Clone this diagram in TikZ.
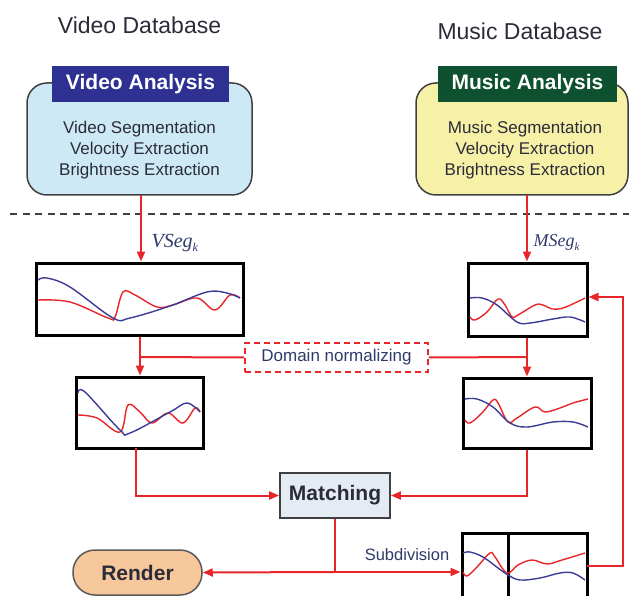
\documentclass[tikz,border=0pt]{standalone}
\usepackage{fontspec}
\setmainfont{Liberation Sans}
\newfontfamily\timesfam{Liberation Serif}
\usetikzlibrary{arrows.meta}
\definecolor{lnred}{HTML}{E8262A}
\definecolor{crvblue}{HTML}{3C3C96}
\definecolor{navyhead}{HTML}{2E3192}
\definecolor{greenhead}{HTML}{0E5130}
\definecolor{vfill}{HTML}{CDE9F5}
\definecolor{mfill}{HTML}{F7F1A8}
\definecolor{matchfill}{HTML}{E4EBF2}
\definecolor{renderfill}{HTML}{F6C89B}
\definecolor{txtdark}{HTML}{2B2B3A}
\definecolor{lbldark}{HTML}{2E3A6A}

\begin{document}
\begin{tikzpicture}[x=1pt,y=-1pt,
  flow/.style={draw=lnred, line width=2pt, -{Triangle[length=10pt,width=8pt]}},
  wire/.style={draw=lnred, line width=2pt},
  panel/.style={draw=black, line width=3pt, inner sep=0pt},
  anabox/.style={draw=black!75, line width=1.5pt, rounded corners=20pt, inner sep=0pt},
  headbox/.style={inner sep=0pt, text=white, font=\fontsize{21}{25}\selectfont\bfseries},
  bodytxt/.style={align=center, text=txtdark, font=\fontsize{17}{21}\selectfont},
  dbtitle/.style={text=txtdark, font=\fontsize{23}{27}\selectfont},
  segl/.style={text=lbldark, anchor=west, font=\fontsize{20}{24}\timesfam\itshape},
  redc/.style={lnred, line width=1.4pt},
  bluec/.style={crvblue, line width=1.4pt},
]
\useasboundingbox (0,0) rectangle (629,596);

% database titles
\node[dbtitle] (vdb) at (139.5,25) {Video Database};
\node[dbtitle] (mdb) at (520,31) {Music Database};

% analysis blocks
\node[anabox, fill=vfill, minimum width=225pt, minimum height=112pt] (vana) at (139.5,139) {};
\node[headbox, fill=navyhead, minimum width=177pt, minimum height=36pt] (vhead) at (140.5,84) {Video Analysis};
\node[bodytxt] (vtxt) at (139.5,150) {Video Segmentation\\Velocity Extraction\\Brightness Extraction};

\node[anabox, fill=mfill, minimum width=212pt, minimum height=112pt] (mana) at (522,139) {};
\node[headbox, fill=greenhead, minimum width=179pt, minimum height=36pt] (mhead) at (527.5,84) {Music Analysis};
\node[bodytxt] (mtxt) at (525,150) {Music Segmentation\\Velocity Extraction\\Brightness Extraction};

% separator between analysis and synthesis
\draw[black!75, line width=2.5pt, dash pattern=on 7pt off 5.5pt] (10,214) -- (629,214);

% signal panels
\node[panel, minimum width=207pt, minimum height=72pt] (v1) at (139.5,299) {};
\node[panel, minimum width=127pt, minimum height=71pt] (v2) at (139.5,412.5) {};
\node[panel, minimum width=119pt, minimum height=73pt] (m1) at (527.5,299.5) {};
\node[panel, minimum width=128pt, minimum height=70pt] (m2) at (527,413) {};
\node[panel, minimum width=125pt, minimum height=74pt] (sub) at (524.5,570) {};
\draw[black, line width=3pt] (508,533) -- (508,607);

% curves: video segment
\draw[redc] plot[smooth, tension=0.6] coordinates {(38,300) (70,302) (108,318) (115,317) (123,292) (135,295) (157,307) (173,305) (197,298) (215,310) (230,295) (240,298)};
\draw[bluec] plot[smooth, tension=0.6] coordinates {(38,280) (47,278) (70,287) (113,318) (130,318) (170,306) (207,292) (227,293) (240,298)};
\draw[redc] plot[smooth, tension=0.6] coordinates {(78,415) (97,418) (120,432) (128,405) (140,412) (152,423) (168,413) (183,423) (195,408) (200,412)};
\draw[bluec] plot[smooth, tension=0.6] coordinates {(78,393) (85,392) (120,430) (130,433) (170,412) (187,403) (200,412)};

% curves: music segment
\draw[redc] plot[smooth, tension=0.6] coordinates {(470,317) (475,320) (487,312) (498,299) (505,305) (512,317) (518,315) (535,305) (543,305) (552,309) (563,308) (577,302) (585,298)};
\draw[bluec] plot[smooth, tension=0.6] coordinates {(470,298) (482,298) (497,305) (517,322) (530,323) (553,319) (570,317) (585,322)};
\draw[redc] plot[smooth, tension=0.6] coordinates {(465,420) (470,423) (482,413) (493,400) (498,403) (508,422) (517,418) (535,407) (545,412) (560,408) (573,403) (588,399)};
\draw[bluec] plot[smooth, tension=0.6] coordinates {(465,399) (477,399) (493,407) (510,423) (527,427) (553,422) (573,422) (588,427)};

% curves: subdivided segment
\draw[redc] plot[smooth, tension=0.6] coordinates {(463,572) (467,576) (477,567) (490,553) (495,557) (507,573) (518,565) (532,560) (547,564) (562,560) (585,553)};
\draw[bluec] plot[smooth, tension=0.6] coordinates {(463,553) (470,552) (483,557) (498,568) (508,575) (520,580) (540,578) (560,573) (573,573) (585,580)};

% segment labels
\node[segl] (vseg) at (148,243) {VSeg\raisebox{-4pt}{\fontsize{12}{12}\selectfont k}};
\node[segl] (mseg) at (530,243) {\fontsize{18}{22}\selectfont MSeg\raisebox{-4pt}{\fontsize{11}{11}\selectfont k}};

% processing blocks
\node[draw=lnred, line width=1.8pt, dash pattern=on 6pt off 4pt, minimum width=183pt, minimum height=29pt, inner sep=0pt,
      text=lbldark, font=\fontsize{17}{20}\selectfont] (dom) at (336.5,357.5) {Domain normalizing};
\node[draw=black!75, line width=1.8pt, fill=matchfill, minimum width=110pt, minimum height=45pt, inner sep=0pt,
      text=txtdark, font=\fontsize{21}{25}\selectfont\bfseries] (match) at (335,495.5) {Matching};
\node[draw=black!65, line width=1.5pt, fill=renderfill, rounded corners=22pt, minimum width=129pt, minimum height=45pt, inner sep=0pt,
      text=txtdark, font=\fontsize{21}{25}\selectfont\bfseries] (render) at (137.5,572.5) {Render};
\node[text=lbldark, font=\fontsize{16.5}{19}\selectfont] (sublbl) at (407,555) {Subdivision};

% connectors
\coordinate (vtop) at (141,195);
\coordinate (mtop) at (527,195);
\coordinate (vj) at (140,357);
\coordinate (mj) at (527,357);
\coordinate (vdown) at (136,448);
\coordinate (split) at (335,572);
\coordinate (subout) at (587,566);
\coordinate (fb) at (623,297);

\draw[flow] (vtop) -- (vtop |- v1.north);
\draw[flow] (mtop) -- (mtop |- m1.north);
\draw[flow] (vj |- v1.south) -- (vj |- v2.north);
\draw[flow] (mj |- m1.south) -- (mj |- m2.north);
\draw[wire] (vj) -- (dom.west);
\draw[wire] (mj) -- (dom.east);
\draw[flow] (vdown) |- (match.west);
\draw[flow] (mj |- m2.south) |- (match.east);
\draw[wire] (match.south) -- (split);
\draw[flow] (split) -- (render.east);
\draw[flow] (split) -- (sub.west |- split);
\draw[flow] (subout) -| (fb) -- (m1.east |- fb);
\end{tikzpicture}
\end{document}
